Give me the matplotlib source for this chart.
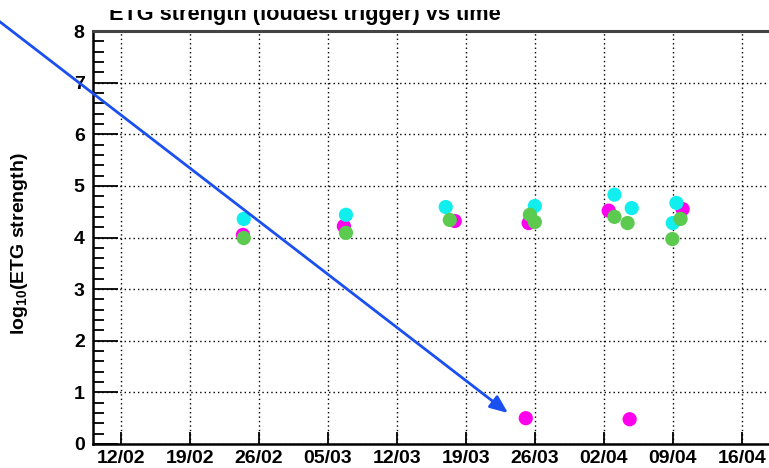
import matplotlib

matplotlib.use("Agg")
import matplotlib.dates as mdates
import matplotlib.pyplot as plt
import numpy as np
from matplotlib.ticker import MultipleLocator
from matplotlib.transforms import Bbox, TransformedBbox

plt.rcParams["font.family"] = ["Liberation Sans", "DejaVu Sans"]
plt.rcParams["mathtext.fontset"] = "custom"
plt.rcParams["mathtext.rm"] = "Liberation Sans:bold"
plt.rcParams["mathtext.default"] = "rm"

# loudest ETG trigger per run (time, log10 strength)
cyan_t = ["2009-02-24 11:00", "2009-03-06 20:00", "2009-03-16 23:00", "2009-03-26 00:00",
          "2009-04-03 02:00", "2009-04-04 20:00", "2009-04-09 09:00", "2009-04-09 00:00"]
cyan_v = [4.36, 4.44, 4.59, 4.61, 4.83, 4.57, 4.67, 4.28]

magenta_t = ["2009-02-24 09:00", "2009-03-06 15:00", "2009-03-17 21:00", "2009-03-25 09:00",
             "2009-03-25 02:00", "2009-04-02 12:00", "2009-04-04 15:00", "2009-04-10 00:00"]
magenta_v = [4.05, 4.22, 4.32, 4.28, 0.50, 4.52, 0.48, 4.55]

green_t = ["2009-02-24 11:00", "2009-03-06 20:00", "2009-03-17 09:00", "2009-03-25 12:00",
           "2009-03-26 00:00", "2009-04-03 02:00", "2009-04-04 10:00", "2009-04-09 19:00",
           "2009-04-08 23:00"]
green_v = [3.99, 4.09, 4.34, 4.44, 4.30, 4.40, 4.28, 4.36, 3.97]

tick_dates = ["2009-02-12", "2009-02-19", "2009-02-26", "2009-03-05", "2009-03-12",
              "2009-03-19", "2009-03-26", "2009-04-02", "2009-04-09", "2009-04-16"]


def as_dates(strs):
    return np.array(strs, dtype="datetime64[m]")


fig = plt.figure(figsize=(7.69, 4.68), dpi=100)
ax = fig.add_axes([93 / 769, 24 / 468, 698 / 769, 413 / 468])

series = [
    (magenta_t, magenta_v, "#ff00ee"),
    (cyan_t, cyan_v, "#11eeee"),
    (green_t, green_v, "#5cc94f"),
]
for t, v, c in series:
    ax.scatter(as_dates(t), v, s=105, color=c, edgecolors="none", zorder=3)

ax.set_xlim(np.datetime64("2009-02-09T03:50"), np.datetime64("2009-04-21T00:00"))
ax.set_ylim(0, 8)
ax.set_xticks(mdates.date2num(as_dates(tick_dates)))
ax.xaxis.set_major_formatter(mdates.DateFormatter("%d/%m"))
ax.yaxis.set_major_locator(MultipleLocator(1))
ax.yaxis.set_minor_locator(MultipleLocator(0.2))

ax.grid(True, which="major", color="black", linestyle=(0, (1, 2.2)), linewidth=1)
ax.set_axisbelow(True)
ax.tick_params(axis="both", which="both", direction="in", colors="black",
               top=False, right=False)
ax.tick_params(axis="x", which="major", length=9, width=1.3, pad=4, labelsize=14)
ax.tick_params(axis="y", which="major", length=18, width=1.3, pad=6, labelsize=14)
ax.tick_params(axis="y", which="minor", length=8, width=1.3)
for lab in ax.get_xticklabels() + ax.get_yticklabels():
    lab.set_fontweight("bold")

for side in ("left", "bottom"):
    ax.spines[side].set_linewidth(1.8)
ax.spines["top"].set_linewidth(2.2)
ax.spines["top"].set_color("#444444")
ax.spines["right"].set_visible(False)

fig.text(20 / 769, 1 - 244 / 468, "log$_{10}$(ETG strength)", rotation=90,
         ha="center", va="center", fontsize=14, fontweight="bold")

# the title is clipped at the top of the canvas in the original, only its lower part shows
title = fig.text(109 / 769, 1 - 20 / 468, "ETG strength (loudest trigger) vs time",
                 ha="left", va="baseline", fontsize=15.7, fontweight="bold")
title.set_clip_box(TransformedBbox(Bbox([[0, 0], [1, 1 - 10 / 468]]), fig.transFigure))
title.set_clip_on(True)

ax.annotate("", xy=(508 / 769, 1 - 413 / 468), xytext=(-5 / 769, 1 - 18 / 468),
            xycoords="figure fraction", textcoords="figure fraction",
            arrowprops=dict(arrowstyle="-|>,head_length=0.6,head_width=0.25",
                            color="#1a4ff0", lw=2, mutation_scale=18,
                            shrinkA=0, shrinkB=0))

fig.savefig("out.png", dpi=100)
